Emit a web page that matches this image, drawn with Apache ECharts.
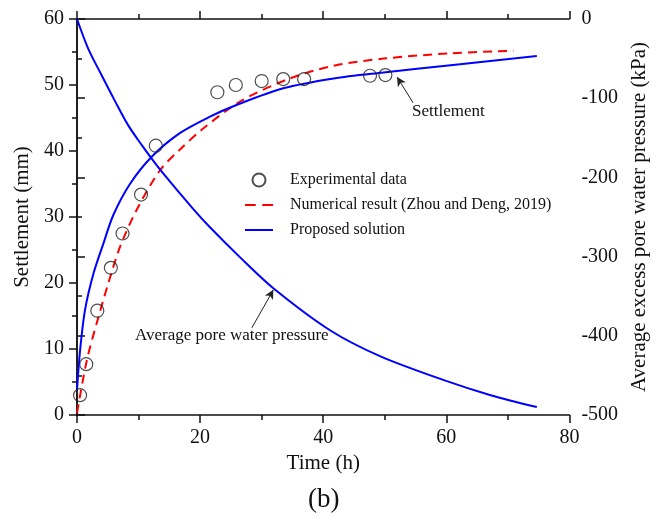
<!DOCTYPE html>
<html lang="en">
<head>
    <meta charset="UTF-8">
    <title>Settlement and pore water pressure</title>
    <script src="https://cdn.jsdelivr.net/npm/echarts@6/dist/echarts.min.js"></script>
</head>
<style>
    body{ margin:0; background:#fff; }
    #chart{ width:658px; height:517px; }
</style>
<body>
    <div id="chart"></div>
    <script>
        // experimental settlement (h, mm)
        var expTime=[0.5,1.5,3.3,5.5,7.4,10.4,12.8,22.8,25.8,30.0,33.5,36.9,47.6,50.1];
        var expSettle=[3.0,7.7,15.8,22.3,27.5,33.4,40.8,48.9,50.0,50.6,50.9,50.9,51.4,51.5];
        // numerical result, Zhou and Deng 2019
        var numTime=[0,1.6,3.2,5.1,7.0,9.7,13.5,16.7,20.5,26.5,34.6,41.6,49.8,60.7,70.9];
        var numSettle=[0.3,8.3,13.9,20.0,25.5,31.1,37.1,40.2,43.4,47.5,51.0,52.9,54.0,54.8,55.2];
        // proposed solution, settlement
        var propTime=[0,0.5,1.3,2.7,4.3,5.9,8.6,12.1,16.7,21.6,26.0,33.5,41.7,49.8,60.7,74.7];
        var propSettle=[3.8,9.8,15.9,21.5,26.0,30.3,35.0,39.1,42.7,45.2,47.0,49.5,51.0,51.9,53.0,54.4];
        // proposed solution, average excess pore water pressure (kPa)
        var presTime=[0,1.8,4.0,6.2,8.3,10.5,12.1,13.8,18.9,21.6,26.5,31.9,41.1,49.3,59.6,67.2,74.7];
        var presValue=[0,-37,-71,-104,-134,-159,-176,-193,-240,-263,-301,-340,-393,-426,-456,-475,-490];

        var xTicks=[0,20,40,60,80];
        var leftTicks=[0,10,20,30,40,50,60];
        var rightTicks=[-500,-400,-300,-200,-100,0];

        function pairs(a,b){
            var res=[];
            for(var i=0;i<a.length;i++) res.push([a[i],b[i]]);
            return res;
        }

        var font='"Liberation Serif","Times New Roman",serif';
        var black='#111';
        // major ticks with labels
        function majorAxis(extra){
            return Object.assign({
                type:'value',
                axisLine:{show:true,lineStyle:{color:black,width:1.5}},
                axisTick:{show:true,inside:false,length:8,lineStyle:{color:black,width:1.5}},
                splitLine:{show:false},
                axisLabel:{color:black,fontFamily:font,fontSize:20,margin:13},
                nameTextStyle:{color:black,fontFamily:font,fontSize:21}
            },extra);
        }
        // short ticks only, drawn over the major axis
        function minorAxis(extra){
            return Object.assign({
                type:'value',
                axisLine:{show:false},
                axisTick:{show:true,inside:false,length:5,lineStyle:{color:black,width:1.5}},
                splitLine:{show:false},
                axisLabel:{show:false}
            },extra);
        }

        var xMin=xTicks[0],xMax=xTicks[xTicks.length-1];
        var lMin=leftTicks[0],lMax=leftTicks[leftTicks.length-1];
        var rMin=rightTicks[0],rMax=rightTicks[rightTicks.length-1];

        var chart=echarts.init(document.getElementById('chart'));
        chart.setOption({
            animation:false,
            backgroundColor:'#fff',
            grid:{left:77,right:88,top:19,bottom:102,containLabel:false},
            xAxis:[
                majorAxis({min:xMin,max:xMax,interval:20,position:'bottom',
                    name:'Time (h)',nameLocation:'middle',nameGap:34}),
                majorAxis({min:xMin,max:xMax,interval:20,position:'top',axisLabel:{show:false}}),
                minorAxis({min:xMin,max:xMax,interval:10,position:'bottom'}),
                minorAxis({min:xMin,max:xMax,interval:10,position:'top'})
            ],
            yAxis:[
                majorAxis({min:lMin,max:lMax,interval:10,position:'left',
                    name:'Settlement (mm)',nameLocation:'middle',nameGap:40,nameRotate:90}),
                majorAxis({min:rMin,max:rMax,interval:100,position:'right',
                    name:'Average excess pore water pressure (kPa)',nameLocation:'middle',nameGap:51,nameRotate:90,
                    axisLabel:{color:black,fontFamily:font,fontSize:20,margin:12}}),
                minorAxis({min:lMin,max:lMax,interval:5,position:'left'}),
                minorAxis({min:rMin,max:rMax,interval:50,position:'right'})
            ],
            legend:{
                orient:'vertical',left:240,top:167,itemWidth:28,itemHeight:13,itemGap:9,
                textStyle:{color:black,fontFamily:font,fontSize:16,padding:[0,0,0,12]},
                data:[
                    {name:'Experimental data'},
                    {name:'Numerical result (Zhou and Deng, 2019)',icon:'path://M0,0h10v2h-10zM16,0h10v2h-10z'},
                    {name:'Proposed solution',icon:'path://M0,0h28v2h-28z'}
                ]
            },
            series:[
                {
                    name:'Numerical result (Zhou and Deng, 2019)',type:'line',smooth:0.3,
                    showSymbol:false,symbol:'none',
                    lineStyle:{color:'#ff0000',width:2,type:[9,6]},itemStyle:{color:'#ff0000'},
                    data:pairs(numTime,numSettle),z:3
                },
                {
                    name:'Proposed solution',type:'line',smooth:0.3,showSymbol:false,symbol:'none',
                    lineStyle:{color:'#0000ff',width:2},itemStyle:{color:'#0000ff'},
                    data:pairs(propTime,propSettle),z:3,
                    markLine:{
                        silent:true,symbol:['none','arrow'],symbolSize:[7,9],
                        lineStyle:{color:'#222',width:1,type:'solid'},label:{show:false},
                        data:[[{coord:[54.6,47.3]},{coord:[52.0,51.2]}]]
                    }
                },
                {
                    name:'Pressure',type:'line',smooth:0.3,showSymbol:false,symbol:'none',yAxisIndex:1,
                    lineStyle:{color:'#0000ff',width:2},itemStyle:{color:'#0000ff'},
                    data:pairs(presTime,presValue),z:3,
                    markLine:{
                        silent:true,symbol:['none','arrow'],symbolSize:[7,9],
                        lineStyle:{color:'#222',width:1,type:'solid'},label:{show:false},
                        data:[[{coord:[28.4,-390]},{coord:[31.9,-342]}]]
                    }
                },
                {
                    name:'Experimental data',type:'scatter',symbol:'circle',symbolSize:13,
                    itemStyle:{color:'rgba(255,255,255,0)',borderColor:'#222',borderWidth:1.2},
                    data:pairs(expTime,expSettle),z:4
                }
            ],
            graphic:[
                {type:'text',left:412,top:103,style:{text:'Settlement',fontFamily:font,fontSize:17,fill:black}},
                {type:'text',left:135,top:327,style:{text:'Average pore water pressure',fontFamily:font,fontSize:17,fill:black}},
                {type:'text',left:308,top:486,style:{text:'(b)',fontFamily:font,fontSize:27,fill:black}}
            ]
        });
    </script>
</body>
</html>
